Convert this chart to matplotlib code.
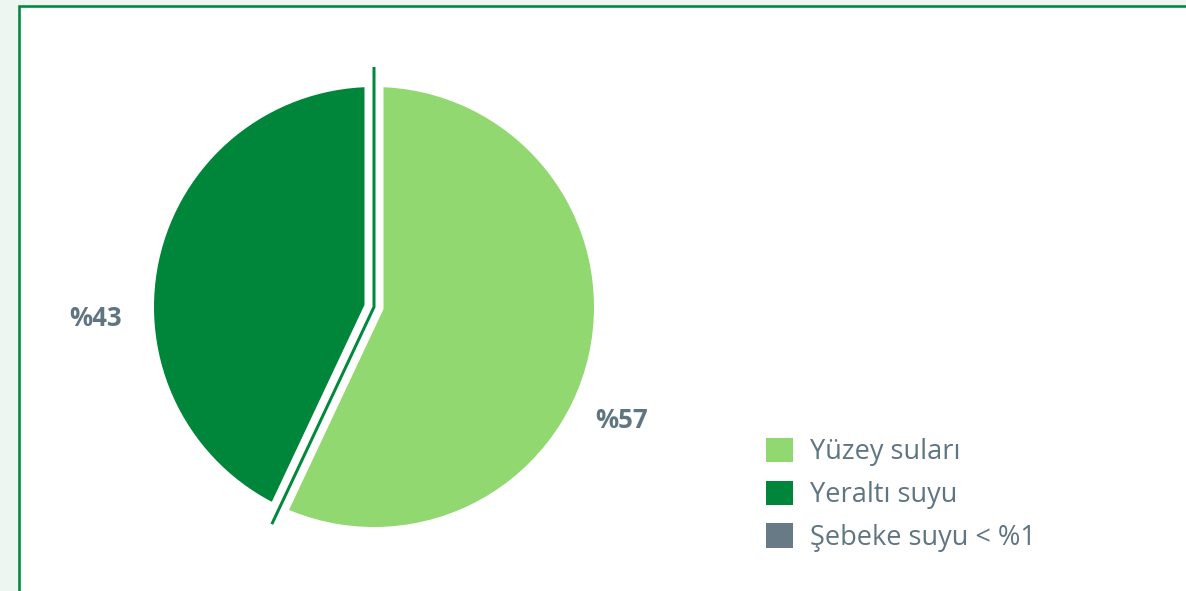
import matplotlib
matplotlib.use('Agg')
import matplotlib.pyplot as plt
from matplotlib.patches import Rectangle
import numpy as np

categories = ['Yüzey suları', 'Yeraltı suyu', 'Şebeke suyu < %1']
shares = [57, 42.7, 0.3]
pct_labels = ['%57', '%43']
colors = ['#92d870', '#00863b', '#677a85']

FRAME_GREEN = '#00893d'
TEXT_GRAY = '#5f7582'
FONT = 'Open Sans'

W, H = 1186, 591
fig = plt.figure(figsize=(W / 100, H / 100), dpi=100, facecolor='#eef6f1')
ax = fig.add_axes([0, 0, 1, 1])

# white panel with green frame (left and top edges visible)
ax.add_patch(Rectangle((19.3, -20), 1300, H - 5.5 + 20, facecolor='white',
                       edgecolor=FRAME_GREEN, lw=2.6 * 0.72, zorder=0))

cx, cy, R = 374, H - 307, 220
wedges, _ = ax.pie(shares, colors=colors, startangle=90, counterclock=False,
                   center=(cx, cy), radius=R, frame=True,
                   wedgeprops=dict(linewidth=0, zorder=2))
ax.set_xlim(0, W)
ax.set_ylim(0, H)
ax.set_aspect('equal')
ax.axis('off')

# separator between slices
b = np.deg2rad(90 - 360 * shares[0] / sum(shares))
L = 240
xs = [cx, cx, cx + L * np.cos(b)]
ys = [cy + L, cy, cy + L * np.sin(b)]
ax.plot(xs, ys, color='white', lw=19 * 0.72, solid_joinstyle='miter',
        solid_capstyle='butt', zorder=3)
ax.plot(xs, ys, color=FRAME_GREEN, lw=3 * 0.72, solid_joinstyle='miter',
        solid_capstyle='butt', zorder=4)

# percentage labels
ax.text(622, H - 420, pct_labels[0], ha='center', va='center', fontsize=18.5,
        fontweight='bold', color=TEXT_GRAY, family=FONT)
ax.text(96, H - 318, pct_labels[1], ha='center', va='center', fontsize=18.5,
        fontweight='bold', color=TEXT_GRAY, family=FONT)

fs = 19.5
fs_px = fs * 100 / 72
sq = 27 / fs_px
leg = ax.legend(wedges, categories, loc='upper left',
                bbox_to_anchor=(766, H - 438), bbox_transform=ax.transData,
                frameon=False, borderpad=0, borderaxespad=0,
                handlelength=sq, handleheight=sq, handletextpad=17 / fs_px,
                labelspacing=0.53, prop={'family': FONT, 'size': fs},
                labelcolor=TEXT_GRAY)

fig.savefig('out.png', dpi=100, facecolor=fig.get_facecolor())
